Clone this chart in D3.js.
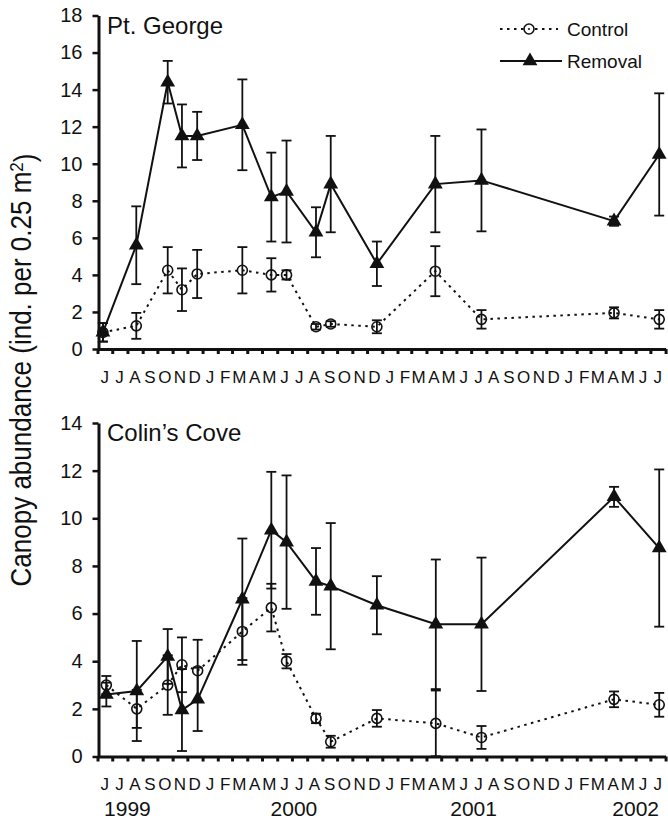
<!DOCTYPE html>
<html>
<head>
<meta charset="utf-8">
<script src="https://cdn.jsdelivr.net/npm/d3@7"></script>
<style>
  body { margin: 0; background: #fff; }
  svg text { font-family: "Liberation Sans", Arial, Helvetica, sans-serif; fill: #111; }
</style>
</head>
<body>
<svg id="chart" width="668" height="822"></svg>
<script>
// Month initials along the time axis (June 1999 - July 2002)
const monthLetters = ["J","J","A","S","O","N","D",
  "J","F","M","A","M","J","J","A","S","O","N","D",
  "J","F","M","A","M","J","J","A","S","O","N","D",
  "J","F","M","A","M","J","J"];
const yearLabels = ["1999", "2000", "2001", "2002"];
const yearAnchors = ["1999-08-01", "2000-07-05", "2001-07-06", "2002-06-01"];
const seriesNames = ["Control", "Removal"];
const siteNames = ["Pt. George", "Colin\u2019s Cove"];

// Pt. George survey dates and means ± SE
const georgeDates = ["1999-06-12","1999-08-19","1999-10-22","1999-11-20","1999-12-21",
  "2000-03-22","2000-05-20","2000-06-20","2000-08-19","2000-09-18",
  "2000-12-21","2001-04-19","2001-07-22","2002-04-18","2002-07-19"];
const georgeControl   = [0.9, 1.25, 4.25, 3.2, 4.05, 4.25, 4.0, 4.0, 1.2, 1.35, 1.2, 4.2, 1.6, 1.95, 1.6];
const georgeControlSE = [0.5, 0.7, 1.25, 1.15, 1.3, 1.25, 0.9, 0.25, 0.15, 0.15, 0.35, 1.35, 0.5, 0.3, 0.5];
const georgeRemoval   = [0.9, 5.6, 14.4, 11.5, 11.5, 12.1, 8.2, 8.5, 6.3, 8.9, 4.6, 8.9, 9.1, 6.9, 10.5];
const georgeRemovalSE = [0.5, 2.1, 1.15, 1.7, 1.3, 2.45, 2.4, 2.75, 1.35, 2.6, 1.2, 2.6, 2.75, 0.25, 3.3];

// Colin's Cove survey dates and means ± SE
const coveDates = ["1999-06-19","1999-08-20","1999-10-22","1999-11-20","1999-12-22",
  "2000-03-22","2000-05-20","2000-06-20","2000-08-19","2000-09-18",
  "2000-12-21","2001-04-20","2001-07-22","2002-04-18","2002-07-19"];
const coveControl   = [3.0, 2.0, 3.0, 3.85, 3.6, 5.25, 6.25, 4.0, 1.6, 0.62, 1.6, 1.39, 0.8, 2.4, 2.17];
const coveControlSE = [0.38, 0.8, 1.25, 1.15, 1.3, 1.4, 1.0, 0.3, 0.2, 0.25, 0.35, 1.38, 0.48, 0.33, 0.5];
const coveRemoval   = [2.6, 2.75, 4.2, 1.95, 2.4, 6.6, 9.5, 9.0, 7.35, 7.15, 6.35, 5.55, 5.55, 10.9, 8.75];
const coveRemovalSE = [0.5, 2.1, 1.15, 1.72, 1.33, 2.55, 2.45, 2.8, 1.4, 2.65, 1.22, 2.72, 2.8, 0.42, 3.3];

const parse = d3.timeParse("%Y-%m-%d");
const svg = d3.select("#chart");

const x = d3.scaleTime()
  .domain([new Date(1999, 5, 1), new Date(2002, 7, 1)])
  .range([97.5, 665.6]);

const panels = [
  { name: siteNames[0], dates: georgeDates, ctrl: georgeControl, ctrlSE: georgeControlSE,
    rem: georgeRemoval, remSE: georgeRemovalSE, yMax: 18, y0: 349, y1: 15.5, legend: true },
  { name: siteNames[1], dates: coveDates, ctrl: coveControl, ctrlSE: coveControlSE,
    rem: coveRemoval, remSE: coveRemovalSE, yMax: 14, y0: 756.5, y1: 423, legend: false }
];

const triangle = d3.symbol().type(d3.symbolTriangle).size(95);

function errorBars(g, pts, y) {
  const eb = g.append("g").attr("stroke", "#111").attr("stroke-width", 1.8).attr("fill", "none");
  pts.forEach(p => {
    const cx = x(p.date), top = y(p.v + p.se), bot = y(Math.max(0, p.v - p.se));
    eb.append("line").attr("x1", cx).attr("x2", cx).attr("y1", top).attr("y2", bot);
    eb.append("line").attr("x1", cx - 5).attr("x2", cx + 5).attr("y1", top).attr("y2", top);
    if (p.v - p.se > 0)
      eb.append("line").attr("x1", cx - 5).attr("x2", cx + 5).attr("y1", bot).attr("y2", bot);
  });
}

panels.forEach(P => {
  const y = d3.scaleLinear().domain([0, P.yMax]).range([P.y0, P.y1]);
  const g = svg.append("g");
  const dates = P.dates.map(parse);
  const ctrl = dates.map((d, i) => ({ date: d, v: P.ctrl[i], se: P.ctrlSE[i] }));
  const rem = dates.map((d, i) => ({ date: d, v: P.rem[i], se: P.remSE[i] }));

  // y axis
  const ya = g.append("g").attr("transform", `translate(${x.range()[0] + 1},0)`)
    .call(d3.axisLeft(y).tickValues(d3.range(0, P.yMax + 1, 2)).tickSize(6).tickSizeOuter(0).tickPadding(10));
  ya.select(".domain").attr("stroke-width", 3).attr("stroke", "#111");
  ya.selectAll(".tick line").attr("stroke-width", 2.5).attr("stroke", "#111");
  ya.selectAll(".tick text").attr("font-size", 20).attr("font-family", null).attr("fill", "#111");

  // x axis with a tick at every month boundary
  const xa = g.append("g").attr("transform", `translate(0,${P.y0})`)
    .call(d3.axisBottom(x).ticks(d3.timeMonth.every(1)).tickSize(5).tickSizeOuter(0).tickFormat(""));
  xa.select(".domain").attr("stroke-width", 3).attr("stroke", "#111");
  xa.selectAll(".tick line").attr("stroke-width", 3).attr("stroke", "#111");

  // month initials centred in each month
  const months = d3.timeMonth.range(x.domain()[0], x.domain()[1]);
  g.append("g").selectAll("text").data(months).join("text")
    .attr("x", d => x(d3.timeDay.offset(d, 15)))
    .attr("y", P.y0 + 33.5)
    .attr("text-anchor", "middle")
    .attr("font-size", 17)
    .text((d, i) => monthLetters[i]);

  // site name
  g.append("text").attr("x", 107).attr("y", P.y1 + 18)
    .attr("font-size", 24).text(P.name);

  // error bars
  errorBars(g, ctrl, y);
  errorBars(g, rem, y);

  // series lines
  const line = d3.line().x(d => x(d.date)).y(d => y(d.v));
  g.append("path").datum(ctrl).attr("d", line).attr("fill", "none")
    .attr("stroke", "#111").attr("stroke-width", 2).attr("stroke-dasharray", "2.5,4.5");
  g.append("path").datum(rem).attr("d", line).attr("fill", "none")
    .attr("stroke", "#111").attr("stroke-width", 2);

  // markers
  g.append("g").selectAll("circle").data(ctrl).join("circle")
    .attr("cx", d => x(d.date)).attr("cy", d => y(d.v)).attr("r", 5)
    .attr("fill", "none").attr("stroke", "#111").attr("stroke-width", 1.6);
  g.append("g").selectAll("path").data(rem).join("path")
    .attr("transform", d => `translate(${x(d.date)},${y(d.v)})`)
    .attr("d", triangle).attr("fill", "#111");

  if (P.legend) {
    const lg = g.append("g");
    lg.append("line").attr("x1", 500).attr("x2", 558).attr("y1", 29).attr("y2", 29)
      .attr("stroke", "#111").attr("stroke-width", 2).attr("stroke-dasharray", "2.5,4.5");
    lg.append("circle").attr("cx", 529).attr("cy", 29).attr("r", 5)
      .attr("fill", "#fff").attr("stroke", "#111").attr("stroke-width", 1.6);
    lg.append("circle").attr("cx", 529).attr("cy", 29).attr("r", 1).attr("fill", "#111");
    lg.append("text").attr("x", 567).attr("y", 36).attr("font-size", 19).text(seriesNames[0]);
    lg.append("line").attr("x1", 500).attr("x2", 562).attr("y1", 61).attr("y2", 61)
      .attr("stroke", "#111").attr("stroke-width", 2);
    lg.append("path").attr("transform", "translate(530,61)").attr("d", triangle).attr("fill", "#111");
    lg.append("text").attr("x", 567).attr("y", 68).attr("font-size", 19).text(seriesNames[1]);
  }
});

// year labels under the lower panel
svg.append("g").selectAll("text").data(yearLabels).join("text")
  .attr("x", (d, i) => x(parse(yearAnchors[i])))
  .attr("y", 816)
  .attr("text-anchor", "middle")
  .attr("font-size", 21)
  .text(d => d);

// shared y-axis title
const yt = svg.append("text")
  .attr("transform", "translate(31,370) scale(1.1,1) rotate(-90)")
  .attr("text-anchor", "middle")
  .attr("font-size", 26);
yt.append("tspan").text("Canopy abundance (ind. per 0.25 m");
yt.append("tspan").attr("dy", "-0.45em").attr("font-size", 17).text("2");
yt.append("tspan").attr("dy", "0.45em").text(")");
</script>
</body>
</html>
